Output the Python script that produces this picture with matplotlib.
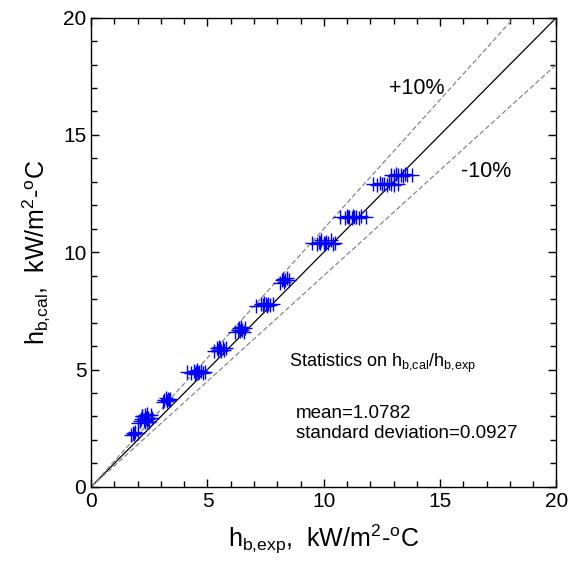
import matplotlib
matplotlib.use("Agg")
import matplotlib.pyplot as plt
from matplotlib.ticker import MultipleLocator

plt.rcParams['font.family'] = ['Liberation Sans', 'DejaVu Sans']
plt.rcParams['mathtext.fontset'] = 'custom'
plt.rcParams['mathtext.rm'] = 'Liberation Sans'
plt.rcParams['mathtext.it'] = 'Liberation Sans'

# Experimental vs calculated heat transfer coefficients (kW/m2-C)
h_exp = [1.7, 1.8, 1.85, 1.9, 2.0,
         2.0, 2.1, 2.15, 2.2, 2.25, 2.3, 2.35, 2.4, 2.45, 2.5, 2.6,
         2.2, 2.3, 2.4, 2.45, 2.55,
         3.1, 3.15, 3.2, 3.25, 3.3, 3.35, 3.4,
         4.1, 4.3, 4.4, 4.45, 4.5, 4.55, 4.6, 4.65, 4.7, 4.8, 4.9,
         5.3, 5.4, 5.45, 5.5, 5.55, 5.6, 5.65, 5.7, 5.8,
         6.2, 6.3, 6.35, 6.4, 6.45, 6.5, 6.55, 6.6,
         7.1, 7.3, 7.4, 7.45, 7.5, 7.55, 7.6, 7.7, 7.8,
         8.1, 8.2, 8.25, 8.3, 8.35, 8.4, 8.5,
         9.5, 9.7, 9.8, 9.85, 9.9, 10.0, 10.05, 10.1, 10.2, 10.3, 10.4, 10.5,
         10.7, 10.9, 11.0, 11.05, 11.1, 11.2, 11.25, 11.3, 11.4, 11.5, 11.6, 11.8,
         12.1, 12.3, 12.4, 12.5, 12.6, 12.7, 12.8, 12.9, 13.0, 13.2,
         12.9, 13.0, 13.1, 13.2, 13.3, 13.4, 13.5, 13.6, 13.8]
h_cal = [2.2, 2.3, 2.25, 2.35, 2.3,
         2.7, 2.8, 2.9, 3.0, 2.85, 2.75, 2.95, 2.8, 2.9, 2.75, 2.95,
         3.0, 3.05, 3.1, 2.95, 3.05,
         3.6, 3.7, 3.8, 3.65, 3.75, 3.7, 3.75,
         4.9, 4.85, 4.95, 4.8, 4.9, 5.0, 4.85, 4.9, 4.95, 4.85, 4.9,
         5.8, 5.9, 5.85, 5.95, 5.9, 5.8, 5.9, 5.85, 5.9,
         6.6, 6.7, 6.75, 6.65, 6.8, 6.7, 6.6, 6.75,
         7.7, 7.8, 7.75, 7.85, 7.8, 7.7, 7.8, 7.75, 7.8,
         8.7, 8.8, 8.85, 8.75, 8.8, 8.9, 8.8,
         10.4, 10.35, 10.45, 10.4, 10.5, 10.4, 10.35, 10.45, 10.4, 10.5, 10.35, 10.4,
         11.5, 11.45, 11.55, 11.5, 11.5, 11.45, 11.55, 11.5, 11.5, 11.45, 11.55, 11.5,
         12.9, 12.85, 12.95, 12.9, 12.9, 12.85, 12.95, 12.9, 12.85, 12.9,
         13.3, 13.25, 13.35, 13.3, 13.3, 13.25, 13.35, 13.3, 13.3]

ref_x = [0, 20]
ref_y = [0, 20]
plus10_x = [0, 20 / 1.1]
plus10_y = [0, 20]
minus10_x = [0, 20]
minus10_y = [0, 18]

fig = plt.figure(figsize=(5.7, 5.7), dpi=100)
ax = fig.add_axes([0.16, 0.146, 0.816, 0.823])

ax.plot(ref_x, ref_y, color='black', lw=0.9)
ax.plot(plus10_x, plus10_y, color='#888888', lw=0.9, ls=(0, (4, 2)))
ax.plot(minus10_x, minus10_y, color='#888888', lw=0.9, ls=(0, (4, 2)))
ax.plot(h_exp, h_cal, ls='none', marker='+', color='#0000ff', ms=10, mew=1.0)

ax.set_xlim(0, 20)
ax.set_ylim(0, 20)
ax.xaxis.set_major_locator(MultipleLocator(5))
ax.yaxis.set_major_locator(MultipleLocator(5))
ax.xaxis.set_minor_locator(MultipleLocator(1))
ax.yaxis.set_minor_locator(MultipleLocator(1))
ax.tick_params(which='both', direction='in', top=True, right=True, labelsize=15)
ax.tick_params(which='major', length=6, width=1)
ax.tick_params(which='minor', length=4, width=1)
ax.tick_params(axis='x', pad=4)
for s in ax.spines.values():
    s.set_linewidth(1.0)

ax.set_xlabel(r'h$_{\rm b{,}exp}$,  kW/m$^{\rm 2}$-$^{\rm o}$C', fontsize=18, labelpad=8)
ax.set_ylabel(r'h$_{\rm b{,}cal}$,  kW/m$^{\rm 2}$-$^{\rm o}$C', fontsize=18, labelpad=8)

ax.text(12.8, 16.75, '+10%', fontsize=15.5)
ax.text(15.9, 13.2, '-10%', fontsize=15.5)
ax.text(8.5, 5.1, r'Statistics on h$_{\rm b{,}cal}$/h$_{\rm b{,}exp}$', fontsize=13)
ax.text(8.8, 2.95, 'mean=1.0782', fontsize=13.5)
ax.text(8.8, 2.1, 'standard deviation=0.0927', fontsize=13.5)

fig.savefig('out.png', dpi=100)
